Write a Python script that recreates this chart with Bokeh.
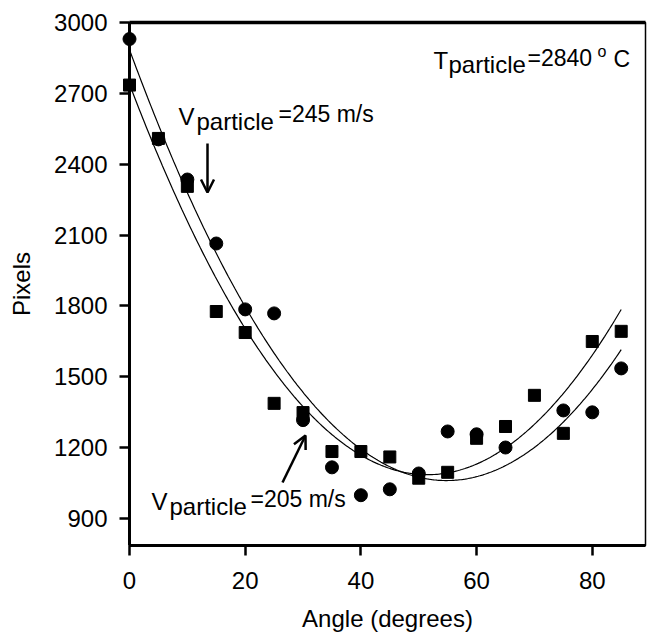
import numpy as np
from bokeh.plotting import figure
from bokeh.models import Range1d, LinearAxis, Arrow, OpenHead, FixedTicker
from bokeh.core.properties import value
from bokeh.embed import file_html
from bokeh.resources import INLINE

# ---- data ----
angles = [0, 5, 10, 15, 20, 25, 30, 35, 40, 45, 50, 55, 60, 65, 70, 75, 80, 85]
pixels_circles = [2930, 2505, 2335, 2064, 1785, 1768, 1316, 1116, 998, 1023,
                  1090, 1268, 1256, 1200, None, 1357, 1349, 1535]
pixels_squares = [2735, 2509, 2306, 1776, 1687, 1387, 1348, 1183, 1183, 1160,
                  1070, 1095, 1239, 1289, 1421, 1260, 1649, 1692]
x_ticks = [0, 20, 40, 60, 80]
y_ticks = [900, 1200, 1500, 1800, 2100, 2400, 2700, 3000]

FONT = "Liberation Sans"

X0, X1 = 0, 89.2
Y0, Y1 = 785, 3000
LEFT, RIGHT, TOP, BOTTOM = 129, 645, 22, 545
W, H = 647, 637

p = figure(width=W, height=H, output_backend="svg", toolbar_location=None,
           x_range=Range1d(X0, X1), y_range=Range1d(Y0, Y1),
           min_border_left=LEFT, min_border_right=W - RIGHT,
           min_border_top=TOP, min_border_bottom=H - BOTTOM)
p.grid.visible = False
p.outline_line_color = "black"
p.outline_line_width = 1.5
p.background_fill_color = "white"
p.border_fill_color = "white"

for ax in (p.xaxis[0], p.yaxis[0]):
    ax.axis_line_width = 3
    ax.axis_line_color = "black"
    ax.major_tick_line_width = 2.5
    ax.major_tick_line_color = "black"
    ax.major_tick_out = 10
    ax.major_tick_in = 0
    ax.minor_tick_out = 0
    ax.minor_tick_in = 0
    ax.major_label_text_font = FONT
    ax.major_label_text_font_size = "24px"
    ax.major_label_text_color = "black"
    ax.axis_label_text_font = FONT
    ax.axis_label_text_font_size = "24px"
    ax.axis_label_text_font_style = "normal"
    ax.axis_label_text_color = "black"

p.xaxis.ticker = FixedTicker(ticks=x_ticks)
p.yaxis.ticker = FixedTicker(ticks=y_ticks)
p.xaxis.axis_label = "Angle (degrees)"
p.yaxis.axis_label = "Pixels"
p.xaxis.major_label_standoff = 16
p.yaxis.major_label_standoff = 12
p.xaxis.axis_label_standoff = 13
p.yaxis.axis_label_standoff = 16

top_axis = LinearAxis(ticker=FixedTicker(ticks=[]), axis_line_width=3.5,
                      axis_line_color="black", major_tick_out=0, minor_tick_out=0,
                      major_label_text_font_size="0px")
p.add_layout(top_axis, "above")

# ---- points and fitted curves ----
cx = [a for a, v in zip(angles, pixels_circles) if v is not None]
cy = [v for v in pixels_circles if v is not None]
sx = list(angles)
sy = list(pixels_squares)

xs = np.linspace(min(angles), max(angles), 300)
coef_c = np.polyfit(cx, cy, 2)
coef_s = np.polyfit(sx, sy, 2)
p.line(xs, np.polyval(coef_c, xs), line_color="black", line_width=1.2)
p.line(xs, np.polyval(coef_s, xs), line_color="black", line_width=1.2)

p.scatter(sx, sy, marker="square", size=12, color="black", level="overlay")
p.scatter(cx, cy, marker="circle", size=13, color="black", level="overlay")

# ---- annotations ----
SHIFT = -9

def px_to_x(px):
    return X0 + (px - LEFT) / (RIGHT - LEFT) * (X1 - X0)

def py_to_y(py):
    return Y1 - (py - TOP) / (BOTTOM - TOP) * (Y1 - Y0)

def rich(pieces):
    for txt, px, py, size in pieces:
        p.text(x=[px_to_x(px)], y=[py_to_y(py + SHIFT)], text=[txt],
               text_font=value(FONT), text_font_size=value(size),
               text_baseline="alphabetic", text_align="left", text_color="black")

rich([("V", 178, 125, "24px"), ("particle", 196, 130, "24px"), ("=245 m/s", 278, 122, "23px")])
rich([("V", 151, 510, "24px"), ("particle", 169, 515, "24px"), ("=205 m/s", 250, 507, "23px")])
rich([("T", 433, 69, "24px"), ("particle", 448, 73, "24px"), ("=2840", 527, 66, "23px"),
      ("o", 597, 60, "16px"), ("C", 613, 67, "23px")])

p.add_layout(Arrow(end=OpenHead(size=13, line_width=2.5, line_color="black"),
                   x_start=px_to_x(207), y_start=py_to_y(143),
                   x_end=px_to_x(207), y_end=py_to_y(192),
                   line_width=2.5, line_color="black"))
p.add_layout(Arrow(end=OpenHead(size=13, line_width=2.5, line_color="black"),
                   x_start=px_to_x(282), y_start=py_to_y(482),
                   x_end=px_to_x(305), y_end=py_to_y(435),
                   line_width=2.5, line_color="black"))

open("out.html", "w").write(file_html(p, INLINE))
